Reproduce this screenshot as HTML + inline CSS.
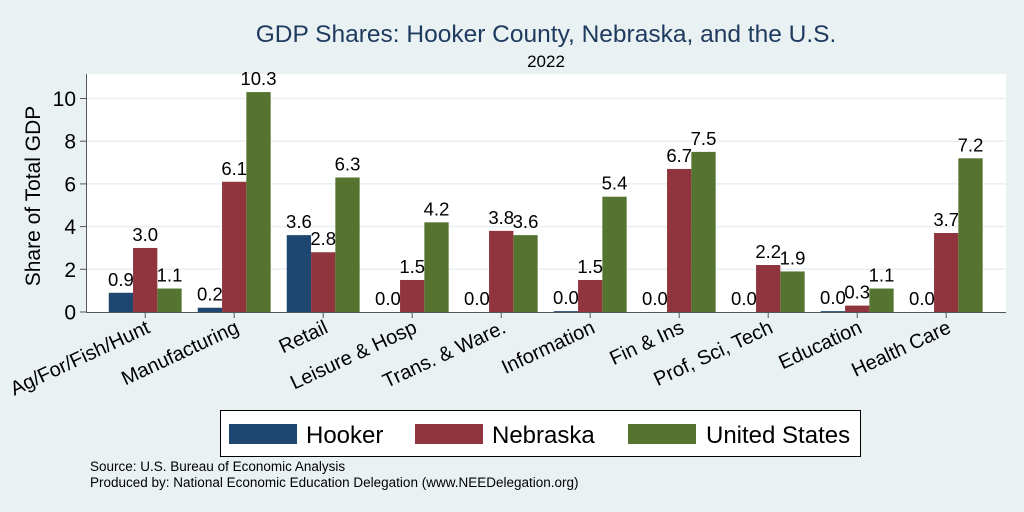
<!DOCTYPE html>
<html><head><meta charset="utf-8"><style>
body{margin:0;background:#eaf1f3;}
svg{display:block;font-family:"Liberation Sans",sans-serif;}
</style></head><body>
<svg id="c" width="1024" height="512">
<rect x="0" y="0" width="1024" height="512" fill="#eaf1f3"/>
<rect x="86" y="74" width="920" height="238" fill="#fff"/>
<text x="546" y="42" font-size="24.5" fill="#1e3a5f" text-anchor="middle">GDP Shares: Hooker County, Nebraska, and the U.S.</text>
<text x="546" y="67" font-size="17" text-anchor="middle">2022</text>
<text transform="translate(40,196) rotate(-90)" font-size="21" text-anchor="middle">Share of Total GDP</text>
<g id="grid"></g><g id="bars"></g><g id="labels"></g>
<line x1="86.5" y1="74" x2="86.5" y2="312.5" stroke="#555"/>
<line x1="86" y1="312.5" x2="1006" y2="312.5" stroke="#555"/>
<g>
<rect x="220.5" y="410.5" width="640" height="46" fill="#fff" stroke="#000"/>
<rect x="229" y="424" width="68" height="20" fill="#1d4770"/>
<text x="306" y="443" font-size="24">Hooker</text>
<rect x="415" y="424" width="68" height="20" fill="#90353d"/>
<text x="492" y="443" font-size="24">Nebraska</text>
<rect x="628" y="424" width="68" height="20" fill="#55742f"/>
<text x="706" y="443" font-size="24">United States</text>
</g>
<text x="90" y="471" font-size="13.5">Source: U.S. Bureau of Economic Analysis</text>
<text x="90" y="487" font-size="13.5">Produced by: National Economic Education Delegation (www.NEEDelegation.org)</text>
</svg>
<script>
const categories=["Ag/For/Fish/Hunt","Manufacturing","Retail","Leisure & Hosp","Trans. & Ware.","Information","Fin & Ins","Prof, Sci, Tech","Education","Health Care"];
const hooker=[0.9,0.2,3.6,0.0,0.0,0.04,0.0,0.0,0.04,0.0];
const nebraska=[3.0,6.1,2.8,1.5,3.8,1.5,6.7,2.2,0.3,3.7];
const us=[1.1,10.3,6.3,4.2,3.6,5.4,7.5,1.9,1.1,7.2];
const yTicks=[0,2,4,6,8,10];
const NS="http://www.w3.org/2000/svg";
function y(v){return 312-v*21.35;}
function gx(i){return 145.2+i*89;}
function mk(t,a,p){const e=document.createElementNS(NS,t);for(const k in a)e.setAttribute(k,a[k]);p.appendChild(e);return e;}
const grid=document.getElementById('grid'),bars=document.getElementById('bars'),labels=document.getElementById('labels');
yTicks.forEach(t=>{
 if(t>0){const l=mk('line',{x1:87,x2:1006,y1:y(t),y2:y(t),stroke:'#e8eff1','stroke-width':1.5},grid);
 
 }
 const tk=mk('line',{x1:80,x2:86,y1:y(t),y2:y(t),stroke:'#555'},grid);
 
 
 const tx=mk('text',{x:76,y:y(t)+7.5,'font-size':21,'text-anchor':'end'},labels);tx.textContent=t;
 
 
});
const series=[[hooker,'#1d4770','hooker'],[nebraska,'#90353d','nebraska'],[us,'#55742f','us']];
const bw=24.3;
categories.forEach((c,i)=>{
 series.forEach(([vals,col,nm],j)=>{
  const v=vals[i],x0=gx(i)-1.5*bw+j*bw;
  const r=mk('rect',{x:x0,y:y(v),width:bw,height:312-y(v),fill:col},bars);
  
  
  const t=mk('text',{x:x0+bw/2,y:y(v)-7,'font-size':18.5,'text-anchor':'middle'},labels);t.textContent=v.toFixed(1);
  
  
 });
 const tk=mk('line',{x1:gx(i),x2:gx(i),y1:312,y2:318,stroke:'#555'},grid);
 
 
 const cl=mk('text',{transform:`translate(${gx(i)+6},${332}) rotate(-25)`,'font-size':20,'text-anchor':'end'},labels);cl.textContent=c;
 
 
});
</script>
</body></html>
